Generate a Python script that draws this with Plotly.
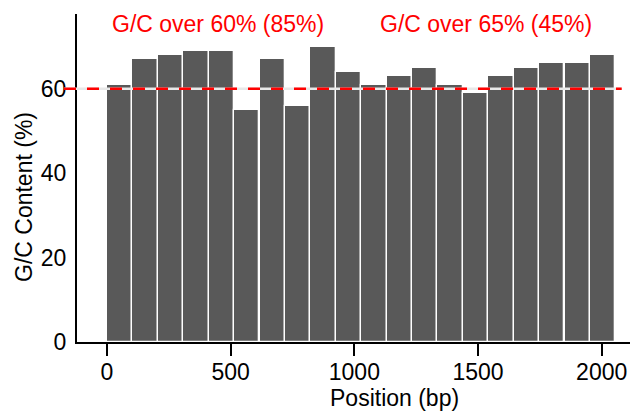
import plotly.graph_objects as go

# Data
window_centers = [51, 154, 257, 360, 462, 565, 668, 771, 873, 976,
                  1079, 1182, 1284, 1387, 1490, 1593, 1695, 1798, 1901, 2004]
gc_content = [61, 67, 68, 69, 69, 55, 67, 56, 70, 64,
              61, 63, 65, 61, 59, 63, 65, 66, 66, 68]
window_size = 102.75
threshold = 60
x_ticks = [0, 500, 1000, 1500, 2000]
y_ticks = [0, 20, 40, 60]
label_60 = "G/C over 60% (85%)"
label_65 = "G/C over 65% (45%)"

FONT = "Liberation Sans, Arial, sans-serif"
FS = 23

fig = go.Figure()
fig.add_trace(go.Bar(
    x=window_centers, y=gc_content, width=window_size,
    marker=dict(color="#595959", line=dict(color="white", width=1.3)),
    showlegend=False,
))

# reference line (light underlay + red dashes)
fig.add_shape(type="line", xref="paper", yref="y", x0=-0.0235, x1=0.985,
              y0=threshold, y1=threshold, layer="above",
              line=dict(color="#e8e8e8", width=2.5))
fig.add_shape(type="line", xref="paper", yref="y", x0=-0.0235, x1=0.985,
              y0=threshold, y1=threshold, layer="above",
              line=dict(color="#ff0000", width=2.5, dash="12px,11px"))

fig.add_annotation(x=450, y=75.3, xref="x", yref="y", text=label_60,
                   showarrow=False, font=dict(family=FONT, size=FS, color="#ff0000"))
fig.add_annotation(x=1533, y=75.3, xref="x", yref="y", text=label_65,
                   showarrow=False, font=dict(family=FONT, size=FS, color="#ff0000"))

# axis titles as annotations
fig.add_annotation(x=1164, y=-0.17, xref="x", yref="paper", text="Position (bp)",
                   showarrow=False, xanchor="center", yanchor="middle",
                   font=dict(family=FONT, size=FS, color="black"))
fig.add_annotation(x=-53 / 553, y=1 - (197 - 14) / (414 - 14 - 72),
                   xref="paper", yref="paper", text="G/C Content (%)",
                   showarrow=False, textangle=-90, xanchor="center", yanchor="middle",
                   font=dict(family=FONT, size=FS, color="black"))

fig.update_layout(
    width=630, height=414,
    margin=dict(l=77, r=0, t=14, b=72),
    paper_bgcolor="white", plot_bgcolor="white",
    font=dict(family=FONT, size=FS, color="black"),
    bargap=0,
    xaxis=dict(range=[-121.3, 2114.4], showline=True, linewidth=2, linecolor="black",
               ticks="outside", ticklen=12, tickwidth=2, tickcolor="black",
               tickvals=x_ticks, showgrid=False, zeroline=False,
               ticklabelstandoff=-4,
               tickfont=dict(family=FONT, size=FS)),
    yaxis=dict(range=[0, 77.7], showline=True, linewidth=2, linecolor="black",
               ticks="", tickvals=y_ticks, showgrid=False, zeroline=False,
               ticklabelstandoff=4,
               tickfont=dict(family=FONT, size=FS)),
)

fig.write_html("out.html")
